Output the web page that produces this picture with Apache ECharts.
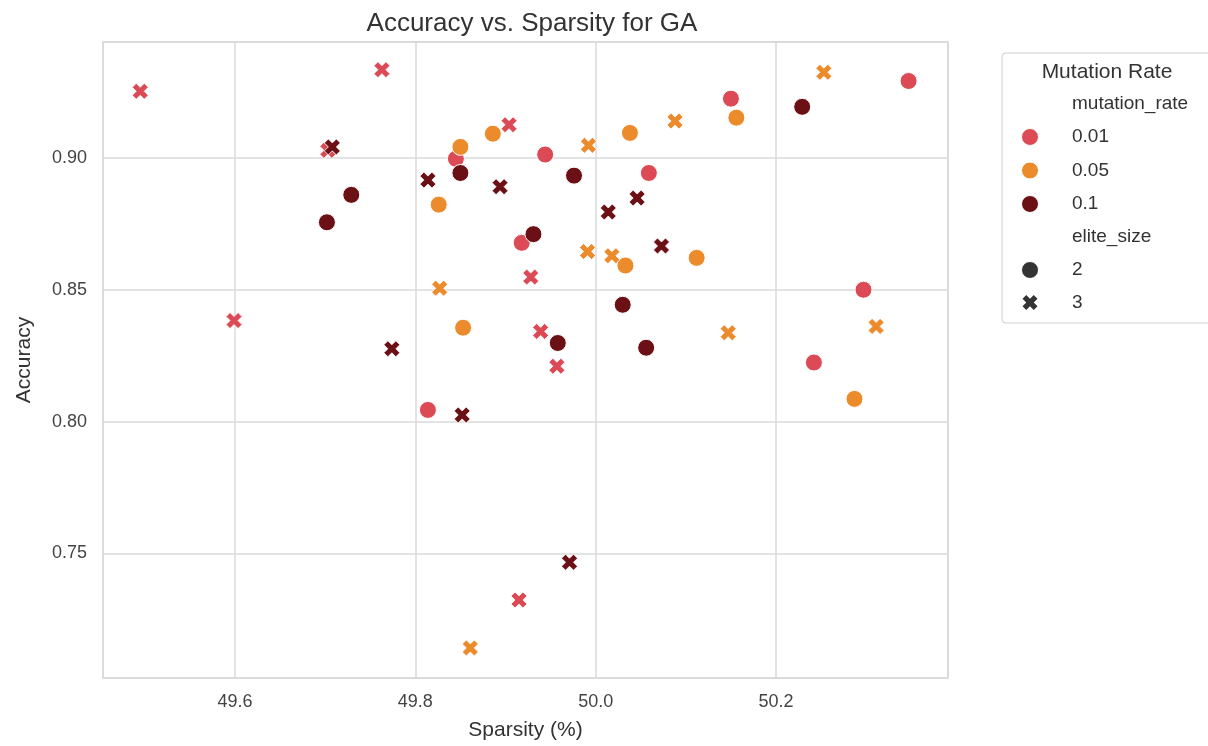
<!DOCTYPE html>
<html>
<head>
<meta charset="utf-8">
<script src="https://cdn.jsdelivr.net/npm/echarts@6/dist/echarts.min.js"></script>
<style>
html,body{margin:0;padding:0;background:#fff;}
#chart{width:1208px;height:746px;}
</style>
</head>
<body>
<div id="chart"></div>
<script>
// ---- Data (sparsity %, accuracy) ----
var rates = ['0.01', '0.05', '0.1'];
var eliteSizes = ['2', '3'];

var rate001_elite2 = [[49.845,0.8997],[49.944,0.9013],[50.059,0.8943],[49.918,0.8678],[50.150,0.9225],[50.347,0.9292],[50.297,0.8500],[50.242,0.8224],[49.814,0.8044]];
var rate001_elite3 = [[49.495,0.9253],[49.763,0.9335],[49.703,0.9029],[49.904,0.9126],[49.928,0.8548],[49.939,0.8342],[49.957,0.8210],[49.915,0.7323],[49.599,0.8383]];
var rate005_elite2 = [[49.850,0.9042],[49.886,0.9092],[50.038,0.9095],[49.826,0.8823],[50.033,0.8592],[50.112,0.8621],[50.156,0.9153],[49.853,0.8356],[50.287,0.8086]];
var rate005_elite3 = [[49.992,0.9048],[50.088,0.9140],[50.253,0.9325],[49.991,0.8645],[50.018,0.8629],[49.827,0.8506],[50.147,0.8337],[50.311,0.8361],[49.861,0.7141]];
var rate01_elite2  = [[49.850,0.8943],[49.976,0.8933],[49.931,0.8711],[49.729,0.8860],[49.702,0.8756],[50.229,0.9194],[50.030,0.8443],[49.958,0.8298],[50.056,0.8280]];
var rate01_elite3  = [[49.708,0.9042],[49.814,0.8916],[49.894,0.8891],[50.014,0.8795],[50.046,0.8848],[50.073,0.8666],[49.774,0.8276],[49.852,0.8025],[49.971,0.7466]];

var titleText = 'Accuracy vs. Sparsity for GA';
var xName = 'Sparsity (%)';
var yName = 'Accuracy';
var legendTitle = 'Mutation Rate';
var hueTitle = 'mutation_rate';
var styleTitle = 'elite_size';

// ---- Styles ----
var colors = {'0.01':'#dc4b55', '0.05':'#ec8b2c', '0.1':'#6b1015'};
var XPTS = [[25,0],[50,25],[75,0],[100,25],[75,50],[100,75],[75,100],[50,75],[25,100],[0,75],[25,50],[0,25]];
var XPATH = 'path://M' + XPTS.map(function(p){return p[0]+','+p[1];}).join('L') + 'Z';
var symbols = {'2':'circle', '3':XPATH};
var FONT = '"Liberation Sans", Arial, sans-serif';

var groups = [
  {rate:'0.01', elite:'2', data:rate001_elite2},
  {rate:'0.01', elite:'3', data:rate001_elite3},
  {rate:'0.05', elite:'2', data:rate005_elite2},
  {rate:'0.05', elite:'3', data:rate005_elite3},
  {rate:'0.1',  elite:'2', data:rate01_elite2},
  {rate:'0.1',  elite:'3', data:rate01_elite3}
];

var series = groups.map(function(g){
  var isX = g.elite === '3';
  return {
    type:'scatter',
    name: g.rate + ' / ' + g.elite,
    data: g.data,
    symbol: symbols[g.elite],
    symbolSize: isX ? 16 : 17,
    itemStyle: {color: colors[g.rate], borderColor:'#ffffff', borderWidth: isX ? 0.8 : 1, opacity: 1},
    emphasis: {disabled:true},
    z: 3
  };
});

// ---- Legend built from labels ----
var lx = 1002, ly = 53;
var LF = '19px ' + FONT;
var legendEls = [
  {type:'rect', shape:{x:lx, y:ly, width:220, height:270, r:4}, style:{fill:'#ffffff', stroke:'#d0d0d0', lineWidth:1}},
  {type:'text', style:{x:1107, y:72, text:legendTitle, font:'21px '+FONT, fill:'#333', textAlign:'center', textVerticalAlign:'middle'}},
  {type:'text', style:{x:1072, y:104, text:hueTitle, font:LF, fill:'#333', textAlign:'left', textVerticalAlign:'middle'}}
];
rates.forEach(function(r, i){
  var yy = 137 + i*33.5;
  legendEls.push({type:'circle', shape:{cx:1030, cy:yy, r:8.5}, style:{fill:colors[r], stroke:'#fff', lineWidth:1}});
  legendEls.push({type:'text', style:{x:1072, y:yy, text:r, font:LF, fill:'#333', textAlign:'left', textVerticalAlign:'middle'}});
});
legendEls.push({type:'text', style:{x:1072, y:237, text:styleTitle, font:LF, fill:'#333', textAlign:'left', textVerticalAlign:'middle'}});
eliteSizes.forEach(function(e, i){
  var yy = 270 + i*32.5;
  if (e === '2') {
    legendEls.push({type:'circle', shape:{cx:1030, cy:yy, r:8.5}, style:{fill:'#333333', stroke:'#fff', lineWidth:1}});
  } else {
    var pts = XPTS.map(function(p){return [1030 - 7.5 + p[0]*0.15, yy - 7.5 + p[1]*0.15];});
    legendEls.push({type:'polygon', shape:{points:pts}, style:{fill:'#333333'}});
  }
  legendEls.push({type:'text', style:{x:1072, y:yy, text:e, font:LF, fill:'#333', textAlign:'left', textVerticalAlign:'middle'}});
});

var chart = echarts.init(document.getElementById('chart'), null, {renderer:'canvas'});
chart.setOption({
  backgroundColor:'#ffffff',
  animation:false,
  title:{text:titleText, left:527, top:6, textAlign:'center',
    textStyle:{fontFamily:FONT, fontSize:26, fontWeight:'normal', color:'#333'}},
  grid:{left:103, right:260, top:42, bottom:67, show:true, borderColor:'#d6d6d6', borderWidth:1.5, backgroundColor:'#fff'},
  xAxis:{
    type:'value', min:49.4537, max:50.3907, splitNumber:5, minInterval:0.2, maxInterval:0.2,
    name:xName, nameLocation:'middle', nameGap:42,
    nameTextStyle:{fontFamily:FONT, fontSize:21, color:'#333'},
    axisLine:{show:false}, axisTick:{show:false},
    axisLabel:{showMinLabel:false, showMaxLabel:false, margin:15, fontFamily:FONT, fontSize:18, color:'#444',
      formatter:function(v){return v.toFixed(1);}},
    splitLine:{show:true, lineStyle:{color:'#dadada', width:1.5}}
  },
  yAxis:{
    type:'value', min:0.7027, max:0.944, splitNumber:5, minInterval:0.05, maxInterval:0.05,
    name:yName, nameLocation:'middle', nameGap:68, nameRotate:90,
    nameTextStyle:{fontFamily:FONT, fontSize:21, color:'#333'},
    axisLine:{show:false}, axisTick:{show:false},
    axisLabel:{showMinLabel:false, showMaxLabel:false, margin:16, fontFamily:FONT, fontSize:18, color:'#444',
      formatter:function(v){return v.toFixed(2);}},
    splitLine:{show:true, lineStyle:{color:'#dadada', width:1.5}}
  },
  graphic: legendEls,
  series: series
});
</script>
</body>
</html>
